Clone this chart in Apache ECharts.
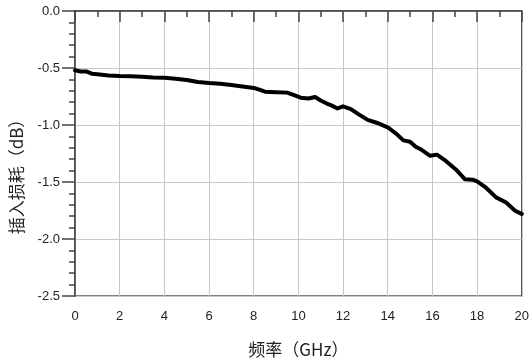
<!DOCTYPE html>
<html>
<head>
<meta charset="utf-8">
<script src="https://cdn.jsdelivr.net/npm/echarts@6/dist/echarts.min.js"></script>
<style>
html,body{margin:0;padding:0;background:#fff;}
#chart{width:532px;height:363px;}
</style>
</head>
<body>
<div id="chart"></div>
<script>
const freqGHz = [0, 0.25, 0.5, 0.75, 1.0, 1.5, 2.0, 2.5, 3.0, 3.5, 4.0, 4.5, 5.0, 5.5, 6.0, 6.5, 7.0, 7.5, 8.0, 8.25, 8.5, 9.0, 9.5, 9.9, 10.1, 10.45, 10.75, 11.0, 11.25, 11.5, 11.75, 12.0, 12.35, 12.65, 13.1, 13.5, 14.0, 14.4, 14.7, 15.0, 15.25, 15.45, 15.9, 16.2, 16.6, 17.05, 17.45, 17.8, 18.0, 18.4, 18.85, 19.3, 19.7, 20.0];
const insertionLoss = [-0.52, -0.53, -0.53, -0.55, -0.555, -0.565, -0.57, -0.572, -0.577, -0.583, -0.586, -0.594, -0.605, -0.622, -0.632, -0.638, -0.65, -0.662, -0.675, -0.69, -0.708, -0.712, -0.716, -0.745, -0.76, -0.768, -0.754, -0.785, -0.81, -0.83, -0.855, -0.836, -0.86, -0.9, -0.955, -0.98, -1.02, -1.08, -1.135, -1.147, -1.19, -1.21, -1.27, -1.26, -1.315, -1.39, -1.475, -1.48, -1.495, -1.55, -1.635, -1.68, -1.752, -1.78];
const xAxisName = '频率（GHz）';
const yAxisName = '插入损耗（dB）';

const chart = echarts.init(document.getElementById('chart'), null, {renderer: 'canvas'});
const labelFont = {color: '#222', fontFamily: '"Liberation Sans", Arial, sans-serif', fontSize: 13};
chart.setOption({
  animation: false,
  backgroundColor: '#fff',
  grid: {left: 74, right: 7, top: 11, bottom: 66, show: true, borderColor: '#555', borderWidth: 1.5},
  xAxis: {
    type: 'value', min: 0, max: 20, interval: 2,
    name: xAxisName, nameLocation: 'middle', nameGap: 45,
    nameTextStyle: {fontFamily: '"Noto Sans CJK SC", sans-serif', fontSize: 17, color: '#222'},
    axisLine: {show: true, lineStyle: {color: '#444', width: 1.5}},
    axisTick: {show: true, inside: false, length: 11, lineStyle: {color: '#444', width: 1.5}},
    minorTick: {show: true, splitNumber: 2, length: 6, lineStyle: {color: '#444', width: 1.5}},
    axisLabel: Object.assign({margin: 14}, labelFont),
    splitLine: {show: true, lineStyle: {color: '#c8c8c8', width: 1}}
  },
  yAxis: {
    type: 'value', min: -2.5, max: 0, interval: 0.5,
    name: yAxisName, nameLocation: 'middle', nameGap: 50,
    nameTextStyle: {fontFamily: '"Noto Sans CJK SC", sans-serif', fontSize: 17, color: '#222', padding: [0, 38, 0, 0]},
    axisLine: {show: true, lineStyle: {color: '#444', width: 1.5}},
    axisTick: {show: true, inside: false, length: 13, lineStyle: {color: '#444', width: 1.5}},
    minorTick: {show: true, splitNumber: 5, length: 6, lineStyle: {color: '#444', width: 1.5}},
    axisLabel: Object.assign({margin: 15, formatter: v => v.toFixed(1)}, labelFont),
    splitLine: {show: true, lineStyle: {color: '#c8c8c8', width: 1}}
  },
  series: [{
    type: 'line',
    data: freqGHz.map((f, i) => [f, insertionLoss[i]]),
    showSymbol: false,
    smooth: false,
    lineStyle: {color: '#000', width: 4, join: 'round', cap: 'round'}
  }]
});
</script>
</body>
</html>
